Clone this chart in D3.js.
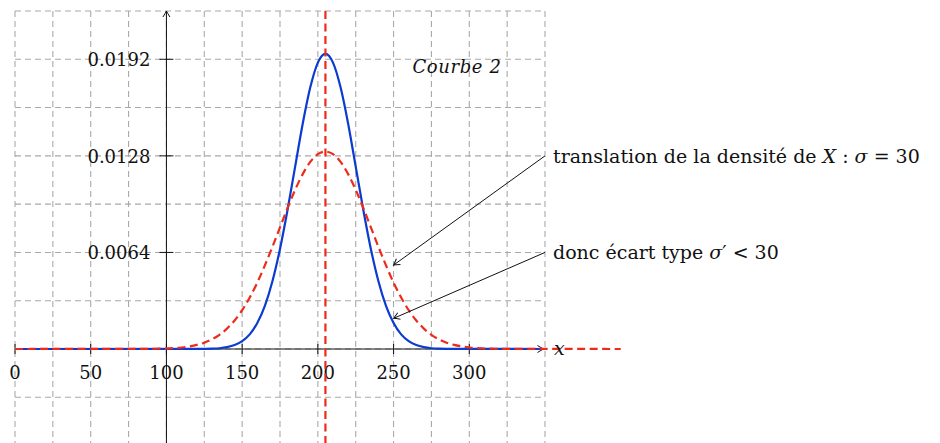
<!DOCTYPE html>
<html>
<head>
<meta charset="utf-8">
<script src="https://cdn.jsdelivr.net/npm/d3@7"></script>
<style>
  body { margin: 0; background: white; }
  text { font-family: "DejaVu Serif", "Liberation Serif", serif; fill: #111; }
</style>
</head>
<body>
<div id="chart"></div>
<script>
// densities (x in units, y = density)
var blueX = [0, 125, 130, 135, 140, 145, 150, 155, 160, 165, 170, 175, 180, 185, 190, 195, 200,
   205, 210, 215, 220, 225, 230, 235, 240, 245, 250, 255, 260, 265, 270, 275, 280, 285, 350];
var blueY = [0, 0.00001, 0.00002, 0.00005, 0.00012, 0.00026, 0.00052, 0.00097, 0.00172, 0.00286,
   0.00449, 0.00663, 0.00923, 0.01209, 0.01493, 0.01734, 0.01898, 0.01956, 0.01898, 0.01734,
   0.01493, 0.01209, 0.00923, 0.00663, 0.00449, 0.00286, 0.00172, 0.00097, 0.00052, 0.00026,
   0.00012, 0.00005, 0.00002, 0.00001, 0];

var redX = [0, 85, 90, 95, 100, 105, 110, 115, 120, 125, 130, 135, 140, 145, 150, 155, 160, 165,
   170, 175, 180, 185, 190, 195, 200, 205, 210, 215, 220, 225, 230, 235, 240, 245, 250, 255, 260,
   265, 270, 275, 280, 285, 290, 295, 300, 305, 310, 315, 320, 325, 400];
var redY = [0, 0.00001, 0.00001, 0.00002, 0.00003, 0.00006, 0.00010, 0.00017, 0.00027, 0.00042,
   0.00064, 0.00094, 0.00135, 0.00189, 0.00257, 0.00341, 0.00440, 0.00554, 0.00677, 0.00806,
   0.00935, 0.01055, 0.01159, 0.01240, 0.01291, 0.01308, 0.01291, 0.01240, 0.01159, 0.01055,
   0.00935, 0.00806, 0.00677, 0.00554, 0.00440, 0.00341, 0.00257, 0.00189, 0.00135, 0.00094,
   0.00064, 0.00042, 0.00027, 0.00017, 0.00010, 0.00006, 0.00003, 0.00002, 0.00001, 0.00001, 0];

var meanX = 205;
var xTicks = [0, 50, 100, 150, 200, 250, 300];
var yTicks = [0.0064, 0.0128, 0.0192];
var gridXs = [0, 25, 50, 75, 100, 125, 150, 175, 200, 225, 250, 275, 300, 325, 350];
var gridYs = [-0.0064, -0.0032, 0, 0.0032, 0.0064, 0.0096, 0.0128, 0.016, 0.0192, 0.0224];

// annotations: [text parts], from point, to point
var notes = [
   { from: [350, 0.0128], to: [250, 0.00556],
     parts: [["translation de la densité de ", "normal"], ["X", "italic"], [" : ", "normal"],
             ["σ", "italic"], [" = 30", "normal"]] },
   { from: [350, 0.0064], to: [250, 0.00203],
     parts: [["donc écart type ", "normal"], ["σ", "italic"], ["′", "normal"], [" < 30", "normal"]] }
];

var width = 940, height = 443;

var svg = d3.select("#chart")
   .append("svg")
   .attr("width", width)
   .attr("height", height);

var x = d3.scaleLinear().domain([0, 350]).range([15, 545]);
var y = d3.scaleLinear().domain([0, 0.0224]).range([349, 11]);

// arrow head (open, tikz style)
svg.append("defs").append("marker")
   .attr("id", "arr")
   .attr("viewBox", "-8 -5 10 10")
   .attr("refX", 0).attr("refY", 0)
   .attr("markerWidth", 10).attr("markerHeight", 10)
   .attr("markerUnits", "userSpaceOnUse")
   .attr("orient", "auto")
   .append("path")
   .attr("d", "M-6,-3.5 Q-2,-1 0,0 Q-2,1 -6,3.5")
   .attr("fill", "none")
   .attr("stroke", "#111")
   .attr("stroke-width", 1);

// grid
var grid = svg.append("g")
   .attr("stroke", "#a9a9a9")
   .attr("stroke-width", 1.1)
   .attr("stroke-dasharray", "6,4");
grid.selectAll(".gv").data(gridXs).enter().append("line")
   .attr("x1", d => x(d)).attr("x2", d => x(d))
   .attr("y1", y(0.0224)).attr("y2", y(-0.0064));
grid.selectAll(".gh").data(gridYs).enter().append("line")
   .attr("x1", x(0)).attr("x2", x(350))
   .attr("y1", d => y(d)).attr("y2", d => y(d));

// axes
svg.append("line")
   .attr("x1", x(0)).attr("x2", x(349))
   .attr("y1", y(0)).attr("y2", y(0))
   .attr("stroke", "#111").attr("stroke-width", 1)
   .attr("marker-end", "url(#arr)");
svg.append("line")
   .attr("x1", x(100)).attr("x2", x(100))
   .attr("y1", height + 5).attr("y2", y(0.0224))
   .attr("stroke", "#111").attr("stroke-width", 1)
   .attr("marker-end", "url(#arr)");

// x ticks
svg.selectAll(".xt").data(xTicks).enter().append("line")
   .attr("x1", d => x(d)).attr("x2", d => x(d))
   .attr("y1", y(0) - 5).attr("y2", y(0) + 5)
   .attr("stroke", "#111");
svg.selectAll(".xl").data(xTicks).enter().append("text")
   .attr("x", d => x(d))
   .attr("y", y(0) + 30)
   .attr("text-anchor", "middle")
   .style("font-size", "18px")
   .text(d => d);

// y ticks
svg.selectAll(".yt").data(yTicks).enter().append("line")
   .attr("x1", x(100) - 7).attr("x2", x(100) + 7)
   .attr("y1", d => y(d)).attr("y2", d => y(d))
   .attr("stroke", "#111");
svg.selectAll(".yl").data(yTicks).enter().append("text")
   .attr("x", x(100) - 16)
   .attr("y", d => y(d) + 7)
   .attr("text-anchor", "end")
   .style("font-size", "18px")
   .text(d => d.toFixed(4));

// curves
var line = d3.line()
   .x(d => x(d[0]))
   .y(d => y(d[1]))
   .curve(d3.curveMonotoneX);

svg.append("path")
   .datum(d3.zip(blueX, blueY))
   .attr("d", line)
   .attr("fill", "none")
   .attr("stroke", "#0b3bd1")
   .attr("stroke-width", 2.2);

svg.append("path")
   .datum(d3.zip(redX, redY))
   .attr("d", line)
   .attr("fill", "none")
   .attr("stroke", "#ee2a1a")
   .attr("stroke-width", 2.2)
   .attr("stroke-dasharray", "8,4.5");

// mean line
svg.append("line")
   .attr("x1", x(meanX)).attr("x2", x(meanX))
   .attr("y1", y(0.0224)).attr("y2", height + 5)
   .attr("stroke", "#ee2a1a")
   .attr("stroke-width", 2.2)
   .attr("stroke-dasharray", "8,4.5");

// x label
svg.append("text")
   .attr("x", x(350) + 9)
   .attr("y", y(0) + 6)
   .style("font-size", "19px")
   .style("font-style", "italic")
   .text("x");

// Courbe 2
svg.append("text")
   .attr("x", x(262.5))
   .attr("y", y(0.0192) + 14)
   .style("font-size", "18px")
   .style("font-style", "italic")
   .style("letter-spacing", "0.6px")
   .text("Courbe 2");

// annotations
notes.forEach(function (n) {
   svg.append("line")
      .attr("x1", x(n.from[0])).attr("y1", y(n.from[1]))
      .attr("x2", x(n.to[0])).attr("y2", y(n.to[1]))
      .attr("stroke", "#111").attr("stroke-width", 1)
      .attr("marker-end", "url(#arr)");
   var t = svg.append("text")
      .attr("x", x(n.from[0]) + 8)
      .attr("y", y(n.from[1]) + 7)
      .style("font-size", "19px");
   n.parts.forEach(function (p) {
      t.append("tspan").style("font-style", p[1]).text(p[0]);
   });
});
</script>
</body>
</html>
